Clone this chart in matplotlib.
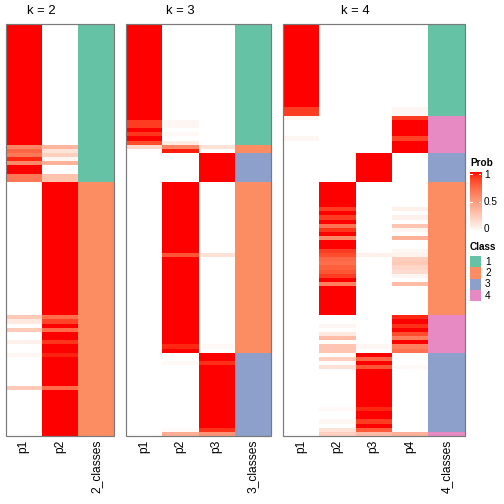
import numpy as np
import matplotlib
matplotlib.use("Agg")
import matplotlib.pyplot as plt
from matplotlib.colors import ListedColormap
from matplotlib.patches import Rectangle

plt.rcParams['font.family'] = ['Liberation Sans', 'DejaVu Sans']

# membership probabilities, one value per sample row (top to bottom)
k2_p1 = [1, 1, 1, 1, 1, 1, 1, 1, 1, 1,
         1, 1, 1, 1, 1, 1, 1, 1, 1, 1,
         1, 1, 1, 1, 1, 1, 1, 1, 1, .62,
         .75, .68, .95, .6, 1, 1, .68, .68, 0, 0,
         0, 0, 0, 0, 0, 0, 0, 0, 0, 0,
         0, 0, 0, 0, 0, 0, 0, 0, 0, 0,
         0, 0, 0, 0, 0, 0, 0, 0, 0, 0,
         .28, .12, 0, .28, 0, 0, .08, 0, 0, .04,
         0, 0, 0, 0, 0, 0, 0, .28, 0, 0,
         0, 0, 0, 0, 0, 0, 0, 0, 0]
k2_p2 = [0, 0, 0, 0, 0, 0, 0, 0, 0, 0,
         0, 0, 0, 0, 0, 0, 0, 0, 0, 0,
         0, 0, 0, 0, 0, 0, 0, 0, 0, .38,
         .15, .25, .05, .4, 0, 0, .32, .32, 1, 1,
         1, 1, 1, 1, 1, 1, 1, 1, 1, 1,
         1, 1, 1, 1, 1, 1, 1, 1, 1, 1,
         1, 1, 1, 1, 1, 1, 1, 1, 1, 1,
         .72, .88, 1, .72, 1, 1, .92, 1, 1, .96,
         1, 1, 1, 1, 1, 1, 1, .72, 1, 1,
         1, 1, 1, 1, 1, 1, 1, 1, 1]
k2_class = [1, 1, 1, 1, 1, 1, 1, 1, 1, 1,
            1, 1, 1, 1, 1, 1, 1, 1, 1, 1,
            1, 1, 1, 1, 1, 1, 1, 1, 1, 1,
            1, 1, 1, 1, 1, 1, 1, 1, 2, 2,
            2, 2, 2, 2, 2, 2, 2, 2, 2, 2,
            2, 2, 2, 2, 2, 2, 2, 2, 2, 2,
            2, 2, 2, 2, 2, 2, 2, 2, 2, 2,
            2, 2, 2, 2, 2, 2, 2, 2, 2, 2,
            2, 2, 2, 2, 2, 2, 2, 2, 2, 2,
            2, 2, 2, 2, 2, 2, 2, 2, 2]

k3_p1 = [1, 1, 1, 1, 1, 1, 1, 1, 1, 1,
         1, 1, 1, 1, 1, 1, 1, 1, 1, 1,
         1, 1, 1, .9, .9, 1, .92, 1, .85, .2,
         0, 0, 0, 0, 0, 0, 0, 0, 0, 0,
         0, 0, 0, 0, 0, 0, 0, 0, 0, 0,
         0, 0, 0, 0, 0, 0, 0, 0, 0, 0,
         0, 0, 0, 0, 0, 0, 0, 0, 0, 0,
         0, 0, 0, 0, 0, 0, 0, 0, 0, 0,
         0, 0, 0, 0, 0, 0, 0, 0, 0, 0,
         0, 0, 0, 0, 0, 0, 0, 0, 0]
k3_p2 = [0, 0, 0, 0, 0, 0, 0, 0, 0, 0,
         0, 0, 0, 0, 0, 0, 0, 0, 0, 0,
         0, 0, 0, .05, .05, 0, .03, 0, .1, .62,
         .97, 0, 0, 0, 0, 0, 0, 0, 1, 1,
         1, 1, 1, 1, 1, 1, 1, 1, 1, 1,
         1, 1, 1, 1, 1, .82, 1, 1, 1, 1,
         1, 1, 1, 1, 1, 1, 1, 1, 1, 1,
         1, 1, 1, 1, 1, 1, 1, .95, 1, 0,
         0, .03, 0, 0, 0, 0, 0, 0, 0, 0,
         0, 0, 0, 0, 0, 0, 0, .02, .42]
k3_p3 = [0, 0, 0, 0, 0, 0, 0, 0, 0, 0,
         0, 0, 0, 0, 0, 0, 0, 0, 0, 0,
         0, 0, 0, 0, 0, 0, 0, 0, 0, .15,
         0, 1, 1, 1, 1, 1, 1, 1, 0, 0,
         0, 0, 0, 0, 0, 0, 0, 0, 0, 0,
         0, 0, 0, 0, 0, .15, 0, 0, 0, 0,
         0, 0, 0, 0, 0, 0, 0, 0, 0, 0,
         0, 0, 0, 0, 0, 0, 0, .03, 0, 1,
         1, .93, 1, 1, 1, 1, 1, 1, 1, 1,
         1, 1, 1, 1, 1, 1, 1, .93, .55]
k3_class = [1, 1, 1, 1, 1, 1, 1, 1, 1, 1,
            1, 1, 1, 1, 1, 1, 1, 1, 1, 1,
            1, 1, 1, 1, 1, 1, 1, 1, 1, 2,
            2, 3, 3, 3, 3, 3, 3, 3, 2, 2,
            2, 2, 2, 2, 2, 2, 2, 2, 2, 2,
            2, 2, 2, 2, 2, 2, 2, 2, 2, 2,
            2, 2, 2, 2, 2, 2, 2, 2, 2, 2,
            2, 2, 2, 2, 2, 2, 2, 2, 2, 3,
            3, 3, 3, 3, 3, 3, 3, 3, 3, 3,
            3, 3, 3, 3, 3, 3, 3, 3, 3]

k4_p1 = [1, 1, 1, 1, 1, 1, 1, 1, 1, 1,
         1, 1, 1, 1, 1, 1, 1, 1, 1, 1,
         .9, .9, .05, 0, 0, 0, 0, .05, 0, 0,
         0, 0, 0, 0, 0, 0, 0, 0, 0, 0,
         0, 0, 0, 0, 0, 0, 0, 0, 0, 0,
         0, 0, 0, 0, 0, 0, 0, 0, 0, 0,
         0, 0, 0, 0, 0, 0, 0, 0, 0, 0,
         0, 0, 0, 0, 0, 0, 0, 0, 0, 0,
         0, 0, 0, 0, 0, 0, 0, 0, 0, 0,
         0, 0, 0, 0, 0, 0, 0, 0, 0]
k4_p2 = [0, 0, 0, 0, 0, 0, 0, 0, 0, 0,
         0, 0, 0, 0, 0, 0, 0, 0, 0, 0,
         0, 0, 0, 0, 0, 0, 0, 0, 0, 0,
         0, 0, 0, 0, 0, 0, 0, 0, 1, 1,
         1, 1, 1, 1, .9, 1, .9, 1, .7, .92,
         1, .6, 1, 1, .9, .85, .75, .72, .78, .82,
         .9, 1, .65, 1, 1, 1, 1, 1, 1, 1,
         0, 0, .05, 0, .12, .35, 0, .3, .3, 0,
         .25, 0, .15, 0, 0, 0, 0, 0, 0, 0,
         0, 0, .03, 0, 0, .05, 0, .15, .25]
k4_p3 = [0, 0, 0, 0, 0, 0, 0, 0, 0, 0,
         0, 0, 0, 0, 0, 0, 0, 0, 0, 0,
         0, 0, 0, 0, 0, 0, 0, 0, 0, 0,
         0, 1, 1, 1, 1, 1, 1, 1, 0, 0,
         0, 0, 0, 0, 0, 0, 0, 0, 0, 0,
         0, 0, 0, 0, 0, .08, 0, 0, 0, 0,
         0, 0, 0, 0, 0, 0, 0, 0, 0, 0,
         0, 0, 0, 0, 0, 0, 0, .05, 0, 1,
         .75, 1, .82, 1, 1, 1, 1, 1, 1, 1,
         1, 1, .95, 1, 1, .9, 1, .8, .35]
k4_p4 = [0, 0, 0, 0, 0, 0, 0, 0, 0, 0,
         0, 0, 0, 0, 0, 0, 0, 0, 0, 0,
         .05, .05, .9, 1, 1, 1, 1, .88, 1, 1,
         1, 0, 0, 0, 0, 0, 0, 0, 0, 0,
         0, 0, 0, 0, .08, 0, .08, 0, .3, .05,
         0, .4, 0, 0, .05, .07, .25, .28, .22, .18,
         .05, 0, .35, 0, 0, 0, 0, 0, 0, 0,
         .95, 1, .93, 1, .85, .65, 1, .65, .7, 0,
         0, 0, .03, 0, 0, 0, 0, 0, 0, 0,
         0, 0, 0, 0, 0, 0, 0, 0, .4]
k4_class = [1, 1, 1, 1, 1, 1, 1, 1, 1, 1,
            1, 1, 1, 1, 1, 1, 1, 1, 1, 1,
            1, 1, 4, 4, 4, 4, 4, 4, 4, 4,
            4, 3, 3, 3, 3, 3, 3, 3, 2, 2,
            2, 2, 2, 2, 2, 2, 2, 2, 2, 2,
            2, 2, 2, 2, 2, 2, 2, 2, 2, 2,
            2, 2, 2, 2, 2, 2, 2, 2, 2, 2,
            4, 4, 4, 4, 4, 4, 4, 4, 4, 3,
            3, 3, 3, 3, 3, 3, 3, 3, 3, 3,
            3, 3, 3, 3, 3, 3, 3, 3, 4]

class_labels = ["1", "2", "3", "4"]
class_colors = ["#66C2A5", "#FC8D62", "#8DA0CB", "#E78AC3"]
prob_ticks = [0, 0.5, 1]


def lab_ramp(c0, c1, n=256):
    """white -> red ramp interpolated in CIE Lab (like circlize::colorRamp2)"""
    M = np.array([[0.4124, 0.3576, 0.1805],
                  [0.2126, 0.7152, 0.0722],
                  [0.0193, 0.1192, 0.9505]])
    wp = np.array([0.95047, 1.0, 1.08883])

    def to_lab(rgb):
        rgb = np.asarray(rgb, float)
        lin = np.where(rgb <= 0.04045, rgb / 12.92, ((rgb + 0.055) / 1.055) ** 2.4)
        xyz = M @ lin / wp
        f = np.where(xyz > 0.008856, np.cbrt(xyz), 7.787 * xyz + 16 / 116)
        return np.array([116 * f[1] - 16, 500 * (f[0] - f[1]), 200 * (f[1] - f[2])])

    def to_rgb(lab):
        fy = (lab[0] + 16) / 116
        f = np.array([fy + lab[1] / 500, fy, fy - lab[2] / 200])
        xyz = np.where(f ** 3 > 0.008856, f ** 3, (f - 16 / 116) / 7.787) * wp[:, None]
        lin = np.linalg.inv(M) @ xyz
        lin = np.clip(lin, 0, 1)
        rgb = np.where(lin <= 0.0031308, 12.92 * lin, 1.055 * lin ** (1 / 2.4) - 0.055)
        return np.clip(rgb, 0, 1).T

    l0, l1 = to_lab(c0), to_lab(c1)
    t = np.linspace(0, 1, n)
    lab = l0[:, None] * (1 - t) + l1[:, None] * t
    cols = to_rgb(lab)
    # keep the end colours exact (rounding in the matrices gives off-white)
    cols[0] = c0
    cols[-1] = c1
    return ListedColormap(cols)


prob_cmap = lab_ramp([1, 1, 1], [1, 0, 0])
class_cmap = ListedColormap(class_colors)

W = H = 504
fig = plt.figure(figsize=(7, 7), dpi=72)


def px_axes(x0, y0, x1, y1):
    ax = fig.add_axes([x0 / W, 1 - y1 / H, (x1 - x0) / W, (y1 - y0) / H])
    ax.set_axis_off()
    return ax


panels = [
    ("k = 2", [k2_p1, k2_p2], k2_class, 5.5),
    ("k = 3", [k3_p1, k3_p2, k3_p3], k3_class, 126),
    ("k = 4", [k4_p1, k4_p2, k4_p3, k4_p4], k4_class, 283),
]
col_w = 36.3
top, bottom = 24, 436

for title, probs, classes, left in panels:
    k = len(probs)
    mat = np.column_stack(probs)
    right_p = left + k * col_w
    ax = px_axes(left, top, right_p, bottom)
    ax.imshow(mat, cmap=prob_cmap, vmin=0, vmax=1, aspect='auto',
              interpolation='nearest')
    axc = px_axes(right_p, top, right_p + col_w, bottom)
    axc.imshow(np.array(classes)[:, None], cmap=class_cmap, vmin=0.5, vmax=4.5,
               aspect='auto', interpolation='nearest')
    fig.patches.append(Rectangle((left / W, 1 - bottom / H),
                                 (k + 1) * col_w / W, (bottom - top) / H,
                                 transform=fig.transFigure, fill=False,
                                 edgecolor='#7a7a7a', linewidth=1.2))
    fig.text((left + right_p) / 2 / W, 1 - 11.5 / H, title, ha='center',
             va='center', fontsize=13)
    names = ["p%d" % (i + 1) for i in range(k)] + ["%d_classes" % k]
    for i, nm in enumerate(names):
        fig.text((left + (i + 0.5) * col_w) / W, 1 - 440 / H, nm, rotation=90,
                 ha='center', va='top', fontsize=12)

# Prob colour bar legend
fig.text(470 / W, 1 - 163 / H, "Prob", fontsize=10, fontweight='bold',
         ha='left', va='center')
y_one, y_zero = 174.5, 229.5
axb = px_axes(470, y_one - 2.5, 481.3, y_zero + 0.5)
grad = np.linspace(0, 1, 200)[:, None]
axb.imshow(grad, cmap=prob_cmap, vmin=0, vmax=1, aspect='auto', origin='lower',
           extent=(0, 1, -0.055, 1.045))
axb.set_ylim(-0.01, 1.045)
for v in prob_ticks:
    axb.plot([0, 0.18], [v, v], color='white', lw=1)
    axb.plot([0.82, 1], [v, v], color='white', lw=1)
    yy = y_zero - v * (y_zero - y_one)
    fig.text(484 / W, 1 - yy / H, ("%g" % v), fontsize=10, ha='left',
             va='center')

# Class legend
fig.text(470 / W, 1 - 246.5 / H, "Class", fontsize=10, fontweight='bold',
         ha='left', va='center')
for i, (lab, col) in enumerate(zip(class_labels, class_colors)):
    y0 = 256 + i * 11.3
    fig.patches.append(Rectangle((470 / W, 1 - (y0 + 11.3) / H), 11.3 / W,
                                 11.3 / H, transform=fig.transFigure,
                                 facecolor=col, edgecolor='none'))
    fig.text(485 / W, 1 - (y0 + 5.65) / H, lab, fontsize=10, ha='left',
             va='center')

fig.savefig("out.png", dpi=72)
